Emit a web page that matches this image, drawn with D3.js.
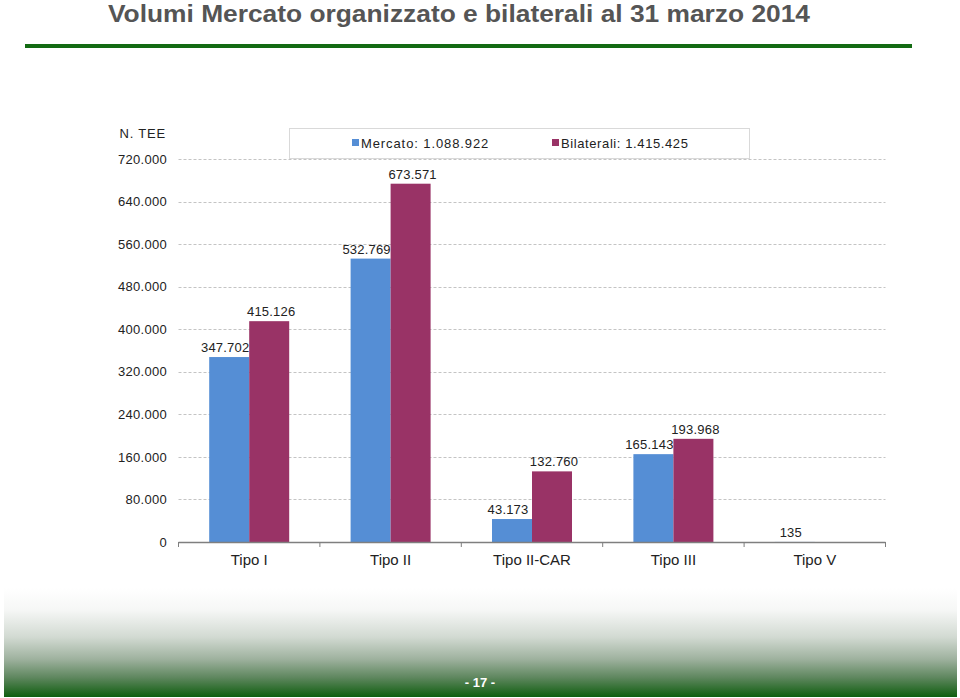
<!DOCTYPE html>
<html><head><meta charset="utf-8">
<script src="https://cdn.jsdelivr.net/npm/d3@7"></script>
<style>
html,body{margin:0;padding:0;background:#fff;}
svg{display:block;}
</style></head>
<body>
<svg id="c" width="960" height="698"></svg>
<script>
const categories = ["Tipo I", "Tipo II", "Tipo II-CAR", "Tipo III", "Tipo V"];
const mercato = [347702, 532769, 43173, 165143, 135];
const bilaterali = [415126, 673571, 132760, 193968, 0];
const bilateraliLabels = ["415.126", "673.571", "132.760", "193.968", ""];
const mercatoLabels = ["347.702", "532.769", "43.173", "165.143", "135"];
const yTicks = [0, 80000, 160000, 240000, 320000, 400000, 480000, 560000, 640000, 720000];
const seriesNames = ["Mercato: 1.088.922", "Bilaterali: 1.415.425"];
const colors = ["#558ed5", "#993366"];
const title = "Volumi Mercato organizzato e bilaterali al 31 marzo 2014";
const yTitle = "N. TEE";
const pageNo = "- 17 -";

const svg = d3.select("#c");
const fmt = v => v === 0 ? "0" : d3.format(",")(v).replace(/,/g, ".");

// Title
svg.append("text").attr("x", 459).attr("y", 22).attr("text-anchor", "middle")
  .attr("font-family", "'Liberation Sans Narrow','Arial Narrow','Liberation Sans',Arial,sans-serif")
  .attr("font-weight", "bold").attr("font-size", 24).attr("fill", "#555")
  .attr("textLength", 702).attr("lengthAdjust", "spacingAndGlyphs")
  .text(title);
svg.append("rect").attr("x", 25).attr("y", 44).attr("width", 887).attr("height", 4).attr("fill", "#136b13");

// Bottom gradient
const defs = svg.append("defs");
const g = defs.append("linearGradient").attr("id", "bg").attr("x1", 0).attr("y1", 0).attr("x2", 0).attr("y2", 1);
[[0, "#ffffff"], [0.2, "#f6f7f6"], [0.45, "#d2dad2"], [0.65, "#9fb29f"], [0.82, "#5f875f"], [1, "#0f5e0f"]]
  .forEach(([o, c]) => g.append("stop").attr("offset", o).attr("stop-color", c));
svg.append("rect").attr("x", 4).attr("y", 588).attr("width", 953).attr("height", 109).attr("fill", "url(#bg)");
svg.append("text").attr("x", 480).attr("y", 687).attr("text-anchor", "middle")
  .attr("font-family", "'Liberation Sans',Arial,sans-serif").attr("font-weight", "bold")
  .attr("font-size", 13).attr("fill", "#fff").text(pageNo);

// Scales
const x0 = d3.scaleBand().domain(categories).range([178.5, 885.5]).paddingInner(0).paddingOuter(0);
const y = d3.scaleLinear().domain([0, 720000]).range([542, 159]);
const groupW = 80;
const x1 = d3.scaleBand().domain([0, 1]).range([0, groupW]);

const font = "'Liberation Sans',Arial,sans-serif";

// Grid lines
svg.append("g").selectAll("line").data(yTicks.filter(t => t > 0)).join("line")
  .attr("x1", 178.5).attr("x2", 885.5)
  .attr("y1", d => Math.round(y(d)) + 0.5).attr("y2", d => Math.round(y(d)) + 0.5)
  .attr("stroke", "#c4c4c4").attr("stroke-width", 1).attr("stroke-dasharray", "3,2");

// Y axis labels
const yAxis = d3.axisLeft(y).tickValues(yTicks).tickFormat(fmt).tickSize(0).tickPadding(0);
const ya = svg.append("g").attr("transform", "translate(167,0)").call(yAxis);
ya.select(".domain").remove();
ya.selectAll("text").attr("font-family", font).attr("font-size", 13).attr("fill", "#222")
  .attr("letter-spacing", "0.3");

svg.append("text").attr("x", 166).attr("y", 138).attr("text-anchor", "end")
  .attr("font-family", font).attr("font-size", 13).attr("fill", "#222").attr("letter-spacing", "0.8")
  .text(yTitle);

// Bars
const series = [mercato, bilaterali];
const labels = [mercatoLabels, bilateraliLabels];
series.forEach((vals, si) => {
  const gg = svg.append("g");
  gg.selectAll("rect").data(vals).join("rect")
    .attr("x", (d, i) => x0(categories[i]) + (x0.bandwidth() - groupW) / 2 + x1(si))
    .attr("width", x1.bandwidth())
    .attr("y", d => y(d)).attr("height", d => y(0) - y(d))
    .attr("fill", colors[si]);
  gg.selectAll("text").data(vals).join("text")
    .attr("x", (d, i) => x0(categories[i]) + (x0.bandwidth() - groupW) / 2 + x1(si) + x1.bandwidth() / 2 + (si === 0 ? -4 : 2))
    .attr("y", d => y(d) - 5)
    .attr("text-anchor", "middle")
    .attr("font-family", font).attr("font-size", 13).attr("fill", "#222").attr("letter-spacing", "0.2")
    .text((d, i) => labels[si][i]);
});

// X axis
const xAxis = d3.axisBottom(x0).tickSize(0).tickPadding(12);
const xa = svg.append("g").attr("transform", "translate(0,542.5)").call(xAxis);
xa.select(".domain").attr("stroke", "#7f7f7f").attr("stroke-width", 1.5).attr("d", "M178.5,0H885.5");
xa.selectAll("text").attr("font-family", font).attr("font-size", 15).attr("fill", "#222").attr("dy", "0.71em");
// category boundary ticks
const bounds = categories.map(c => x0(c)).concat([x0.range()[1]]);
svg.append("g").selectAll("line").data(bounds).join("line")
  .attr("x1", d => d).attr("x2", d => d).attr("y1", 542).attr("y2", 547)
  .attr("stroke", "#7f7f7f").attr("stroke-width", 1);

// Legend
const lg = svg.append("g");
lg.append("rect").attr("x", 289.5).attr("y", 128.5).attr("width", 460).attr("height", 30)
  .attr("fill", "#fff").attr("stroke", "#d9d9d9");
const legX = [352, 552];
seriesNames.forEach((n, i) => {
  lg.append("rect").attr("x", legX[i]).attr("y", 139).attr("width", 7).attr("height", 7).attr("fill", colors[i]);
  lg.append("text").attr("x", legX[i] + 9).attr("y", 147.5).attr("font-family", font).attr("font-size", 13)
    .attr("fill", "#222").attr("letter-spacing", i === 0 ? "0.9" : "0.6").text(n);
});
</script>
</body></html>
